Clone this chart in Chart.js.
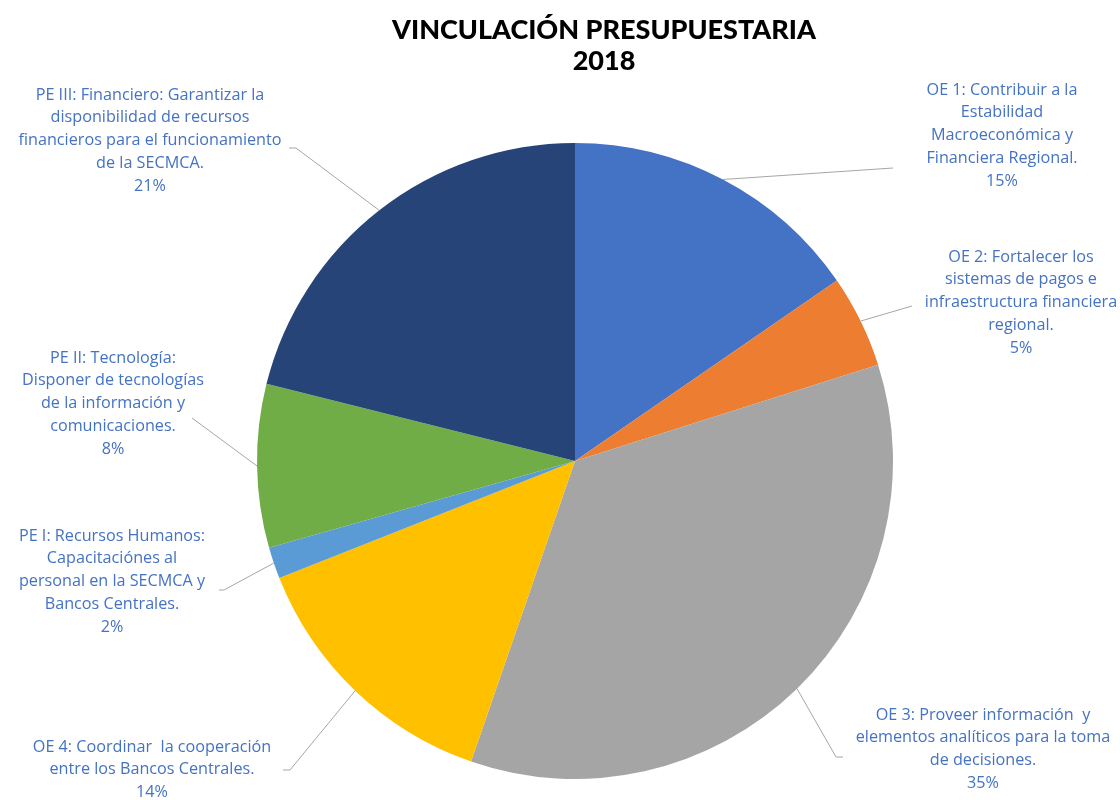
<!DOCTYPE html>
<html>
<head>
<meta charset="utf-8">
<script src="https://cdn.jsdelivr.net/npm/chart.js@4.4.0/dist/chart.umd.min.js"></script>
<style>
html,body{margin:0;padding:0;background:#fff;}
#wrap{width:1120px;height:800px;position:relative;}
</style>
</head>
<body>
<div id="wrap"><canvas id="c" width="1120" height="800"></canvas></div>
<script>
const categories = [
  "OE 1: Contribuir a la|Estabilidad|Macroeconómica y|Financiera Regional.",
  "OE 2: Fortalecer los|sistemas de pagos e|infraestructura financiera|regional.",
  "OE 3: Proveer información  y|elementos analíticos para la toma|de decisiones.",
  "OE 4: Coordinar  la cooperación|entre los Bancos Centrales.",
  "PE I: Recursos Humanos:|Capacitaciónes al|personal en la SECMCA y|Bancos Centrales.",
  "PE II: Tecnología:|Disponer de tecnologías|de la información y|comunicaciones.",
  "PE III: Financiero: Garantizar la|disponibilidad de recursos|financieros para el funcionamiento|de la SECMCA."
];
const values = [15.4, 4.7, 35.2, 13.7, 1.6, 8.3, 21.1];
const colors = ["#4472C4", "#ED7D31", "#A5A5A5", "#FFC000", "#5B9BD5", "#70AD47", "#264478"];
const titleLines = ["VINCULACIÓN PRESUPUESTARIA", "2018"];

// label layout: center x, first line middle y, leader elbow and end
const labelLayout = [
  {cx: 1002, y0: 90, elbow: [893, 168], end: [893, 168]},
  {cx: 1021, y0: 257, elbow: [912, 306], end: [912, 306]},
  {cx: 983, y0: 715, elbow: [836, 757], end: [843, 757]},
  {cx: 152, y0: 747, elbow: [290, 770], end: [283, 770]},
  {cx: 112, y0: 536, elbow: [224, 590], end: [219, 590]},
  {cx: 113, y0: 358, elbow: [192, 418], end: [192, 418]},
  {cx: 150, y0: 95, elbow: [296, 148], end: [289, 148]}
];

const labelFont = '16.2px "Open Sans", "Noto Sans", sans-serif';
const lineH = 22.8;

const labelPlugin = {
  id: 'labels',
  afterDraw(chart) {
    const ctx = chart.ctx;
    const meta = chart.getDatasetMeta(0);
    ctx.save();
    ctx.fillStyle = '#000';
    ctx.font = '900 27px "Lato", "DejaVu Sans", sans-serif';
    ctx.textAlign = 'center';
    ctx.textBaseline = 'middle';
    titleLines.forEach((t, i) => ctx.fillText(t, 604, 30 + i * 31));

    meta.data.forEach((arc, i) => {
      const p = arc.getProps(['x', 'y', 'startAngle', 'endAngle', 'outerRadius'], true);
      const mid = (p.startAngle + p.endAngle) / 2;
      const sx = p.x + Math.cos(mid) * p.outerRadius;
      const sy = p.y + Math.sin(mid) * p.outerRadius;
      const L = labelLayout[i];
      ctx.strokeStyle = '#A6A6A6';
      ctx.lineWidth = 1;
      ctx.beginPath();
      ctx.moveTo(sx, sy);
      ctx.lineTo(L.elbow[0], L.elbow[1]);
      ctx.lineTo(L.end[0], L.end[1]);
      ctx.stroke();

      const lines = categories[i].split('|').concat([Math.round(values[i]) + '%']);
      ctx.fillStyle = '#4472C4';
      ctx.font = labelFont;
      ctx.textAlign = 'center';
      ctx.textBaseline = 'middle';
      lines.forEach((ln, j) => ctx.fillText(ln, L.cx, L.y0 + j * lineH));
    });
    ctx.restore();
  }
};

new Chart(document.getElementById('c'), {
  type: 'pie',
  data: {
    labels: categories.map(c => c.replace(/\|/g, ' ')),
    datasets: [{
      data: values,
      backgroundColor: colors,
      borderWidth: 0
    }]
  },
  options: {
    responsive: false,
    animation: false,
    layout: {padding: {top: 143, bottom: 21, left: 257, right: 227}},
    plugins: {
      legend: {display: false},
      tooltip: {enabled: false},
      title: {display: false}
    }
  },
  plugins: [labelPlugin]
});
</script>
</body>
</html>
